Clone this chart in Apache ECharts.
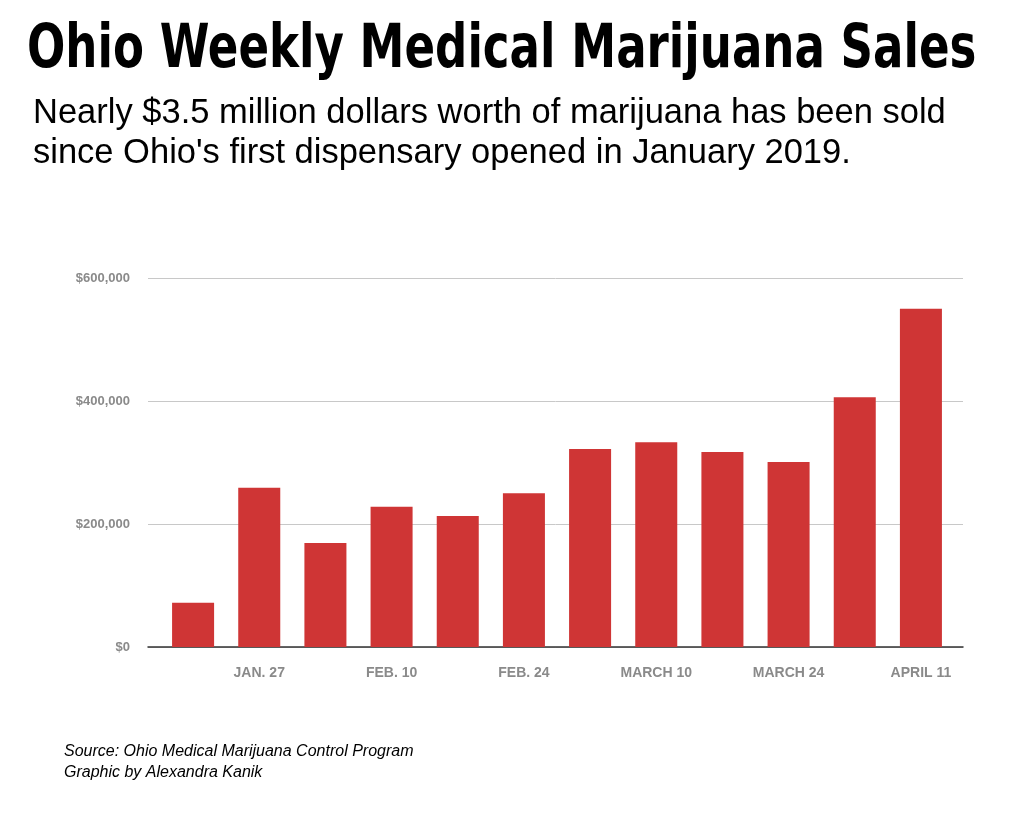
<!DOCTYPE html>
<html><head><meta charset="utf-8">
<script src="https://cdn.jsdelivr.net/npm/echarts@6/dist/echarts.min.js"></script>
<style>html,body{margin:0;background:#fff}#c{width:1029px;height:834px}</style>
</head><body><div id="c"></div>
<script>
const categories = ["JAN. 20","JAN. 27","FEB. 3","FEB. 10","FEB. 17","FEB. 24","MARCH 3","MARCH 10","MARCH 17","MARCH 24","MARCH 31","APRIL 11"];
const sales = [72000,259000,169000,228000,213000,250000,322000,333000,317000,301000,406000,550000];
const chart = echarts.init(document.getElementById('c'));
chart.setOption({
  animation:false,
  graphic:[
    {type:'text',x:27,y:21,scaleX:0.752,style:{text:'Ohio Weekly Medical Marijuana Sales',font:'bold 60px "DejaVu Sans", sans-serif',fill:'#000'}},
    {type:'text',left:33,top:93,style:{text:"Nearly $3.5 million dollars worth of marijuana has been sold\nsince Ohio's first dispensary opened in January 2019.",font:'34.5px "Liberation Sans", Arial, sans-serif',lineHeight:40,fill:'#000'}},
    {type:'text',left:64,top:741,style:{text:'Source: Ohio Medical Marijuana Control Program\nGraphic by Alexandra Kanik',font:'italic 16px "Liberation Sans", Arial, sans-serif',lineHeight:21,fill:'#000'}}
  ],
  grid:[{left:148,right:66,top:278,bottom:187},{left:160,right:75,top:278,bottom:187}],
  xAxis:[{type:'category',gridIndex:0,data:[''],
    axisLine:{lineStyle:{color:'#333',width:1.5}},axisTick:{show:false},axisLabel:{show:false}},
    {type:'category',gridIndex:1,data:categories,
    axisLine:{show:false},axisTick:{show:false},
    axisLabel:{interval:(i)=>i%2===1,color:'#8a8a8a',fontWeight:'bold',fontSize:14,margin:19,fontFamily:'"Liberation Sans", Arial'}}],
  yAxis:[{type:'value',gridIndex:0,min:0,max:600000,interval:200000,
    splitLine:{lineStyle:{color:'#c8c8c8'}},
    axisLabel:{color:'#8a8a8a',fontWeight:'bold',fontSize:13,margin:18,fontFamily:'"Liberation Sans", Arial',
      formatter:v=>'$'+v.toLocaleString('en-US')}},
    {type:'value',gridIndex:1,min:0,max:600000,interval:200000,show:false,splitLine:{show:false}}],
  series:[{type:'bar',xAxisIndex:1,yAxisIndex:1,data:sales,barCategoryGap:'36.5%',itemStyle:{color:'#cf3535'}}]
});
</script></body></html>
